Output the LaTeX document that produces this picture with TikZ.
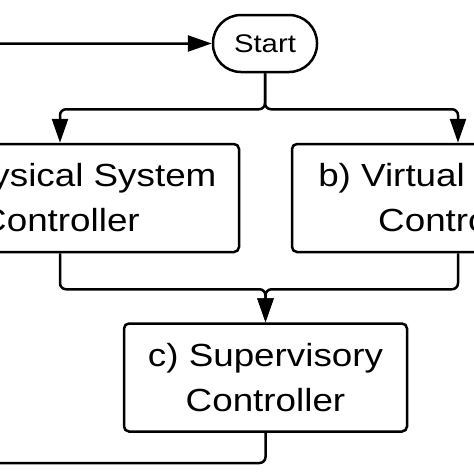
\documentclass[tikz,border=0pt]{standalone}
\usepackage{fontspec}
\newfontfamily\flowfont{Liberation Sans}[FakeStretch=1.15]
\usetikzlibrary{arrows.meta}

\tikzset{
  ctrl/.style={draw, line width=2.5pt, rounded corners=5pt, align=center,
    minimum height=108pt, inner sep=0pt, font=\flowfont\fontsize{32}{45}\selectfont},
  terminal/.style={draw, line width=2.5pt, rounded corners=28pt, minimum width=104pt,
    minimum height=57pt, font=\flowfont\fontsize{25.5}{30}\selectfont},
  flow/.style={line width=2.5pt, rounded corners=6pt, -{Triangle[length=24pt,width=16pt]}},
}

\begin{document}
\begin{tikzpicture}[x=1pt, y=-1pt]
\useasboundingbox (0,0) rectangle (474,474);
\clip (0,0) rectangle (474,474);

\node[terminal] (start) at (265,43.5) {Start};
\node[ctrl, minimum width=358pt] (phys) at (60,198) {a) Physical System\\Controller};
\node[ctrl, minimum width=332pt] (virt) at (458,198) {b) Virtual System\\Controller};
\node[ctrl, minimum width=283pt] (sup) at (265.5,377.5) {c) Supervisory\\Controller};

\draw[flow] (start.south) -- ++(0,36) -| (phys.north);
\draw[flow] (start.south) -- ++(0,36) -| (virt.north);
\draw[flow] (phys.south) -- ++(0,36) -| (sup.north);
\draw[flow] (virt.south) -- ++(0,36) -| (sup.north);

% back to start
\draw[flow] (sup.south) |- (-30,463) |- (start.west);
\end{tikzpicture}
\end{document}
